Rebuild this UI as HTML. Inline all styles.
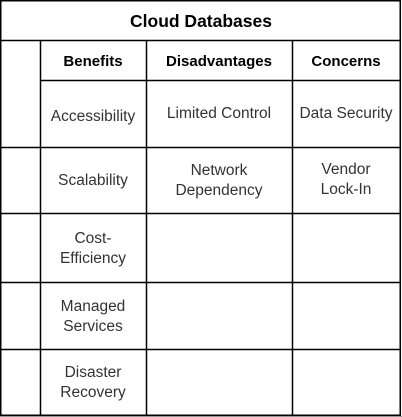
<!DOCTYPE html>
<html><head><style>html,body{margin:0;padding:0;background:#fff}svg{display:block}
text{font-family:"Liberation Sans",Arial,sans-serif;}
</style></head><body>
<svg width="402" height="417" xmlns="http://www.w3.org/2000/svg">
<rect x="0" y="0" width="402" height="417" fill="#fff"/>
<g stroke="#000" stroke-width="1.5" fill="none">
<rect x="0.75" y="0.75" width="399.5" height="414.5"/>
<line x1="0" y1="40.5" x2="401" y2="40.5"/>
<line x1="40.5" y1="40" x2="40.5" y2="416"/>
<line x1="146.5" y1="40" x2="146.5" y2="416"/>
<line x1="292.5" y1="40" x2="292.5" y2="416"/>
<line x1="40" y1="80.5" x2="401" y2="80.5"/>
<line x1="0" y1="147.5" x2="401" y2="147.5"/>
<line x1="0" y1="213.5" x2="401" y2="213.5"/>
<line x1="0" y1="282.5" x2="401" y2="282.5"/>
<line x1="0" y1="349.5" x2="401" y2="349.5"/>
</g>
<line x1="0" y1="416.5" x2="402" y2="416.5" stroke="#999" stroke-width="1"/>
<g text-anchor="middle">
<text x="201" y="27" style="font-size:17.5px;font-weight:bold" fill="#000">Cloud Databases</text>
<g style="font-size:15px;font-weight:bold" fill="#000">
<text x="93" y="66">Benefits</text>
<text x="219" y="66">Disadvantages</text>
<text x="346" y="66">Concerns</text>
</g>
<g style="font-size:15.5px" fill="#333">
<text x="93" y="121">Accessibility</text>
<text x="219" y="118">Limited Control</text>
<text x="346" y="118">Data Security</text>
<text x="93" y="185">Scalability</text>
<text x="219" y="175">Network</text>
<text x="219" y="195">Dependency</text>
<text x="346" y="174">Vendor</text>
<text x="346" y="194">Lock-In</text>
<text x="93" y="243">Cost-</text>
<text x="93" y="263">Efficiency</text>
<text x="93" y="311">Managed</text>
<text x="93" y="331">Services</text>
<text x="93" y="377">Disaster</text>
<text x="93" y="397">Recovery</text>
</g>
</g>
</svg>
</body></html>
